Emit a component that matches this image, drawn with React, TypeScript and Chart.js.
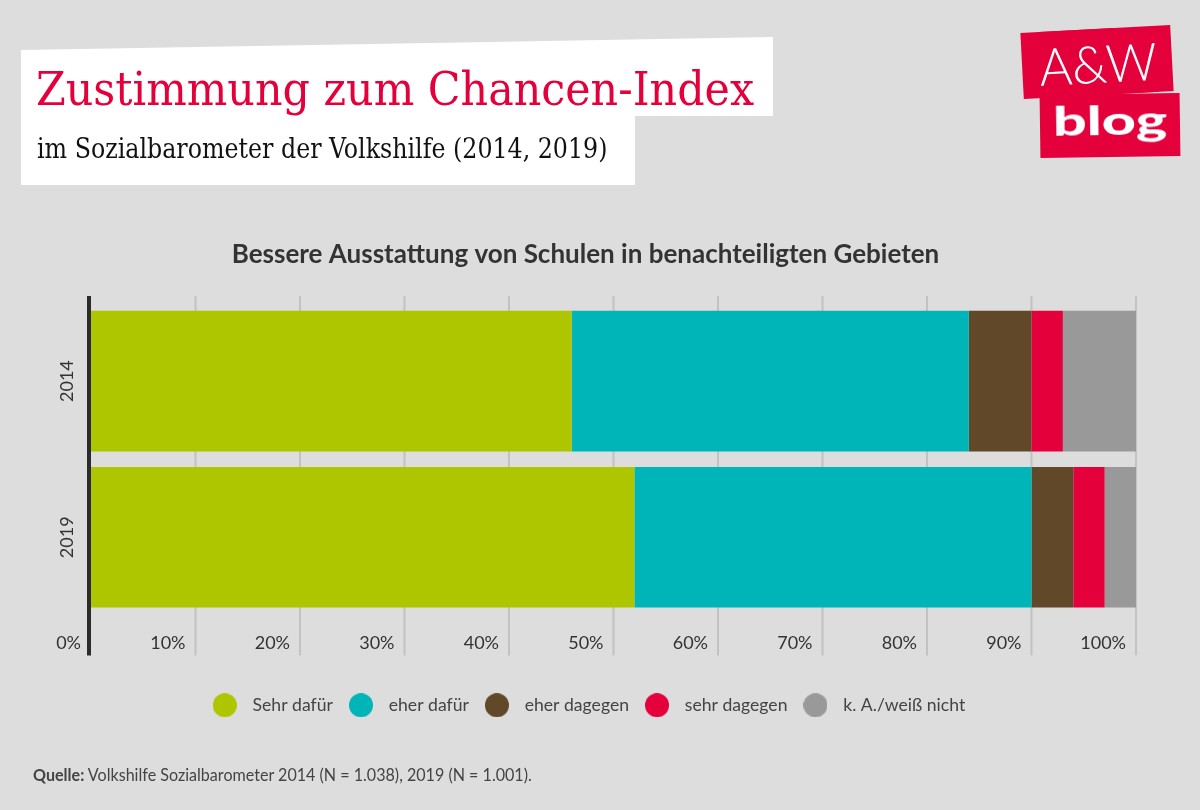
import React, { useEffect, useLayoutEffect, useRef, useState } from 'react';
import { Chart, registerables } from 'chart.js';

Chart.register(...registerables);

// ---- data ----
const years = ['2014', '2019'];
const seriesNames = ['Sehr dafür', 'eher dafür', 'eher dagegen', 'sehr dagegen', 'k. A./weiß nicht'];
const sehrDafuer = [46, 52];
const eherDafuer = [38, 38];
const eherDagegen = [6, 4];
const sehrDagegen = [3, 3];
const weissNicht = [7, 3];
const seriesColors = ['#adc600', '#00b5b8', '#604829', '#e3003b', '#999999'];
const xMin = 0;
const xMax = 100;
const xStep = 10;
const tickSuffix = '%';
const chartTitle = 'Bessere Ausstattung von Schulen in benachteiligten Gebieten';

const seriesValues = [sehrDafuer, eherDafuer, eherDagegen, sehrDagegen, weissNicht];

function makeDot(color: string, d = 24): HTMLCanvasElement {
  const c = document.createElement('canvas');
  c.width = d;
  c.height = d;
  const g = c.getContext('2d')!;
  g.fillStyle = color;
  g.beginPath();
  g.arc(d / 2, d / 2, d / 2, 0, Math.PI * 2);
  g.fill();
  return c;
}

const gridPlugin = {
  id: 'customGrid',
  beforeDatasetsDraw(chart: any) {
    const { ctx, chartArea } = chart;
    const x = chart.scales.x;
    const top = chartArea.top - 7;
    const bottom = chartArea.bottom + 40;
    ctx.save();
    x.ticks.forEach((t: any) => {
      const px = x.getPixelForValue(t.value);
      ctx.beginPath();
      if (t.value === xMin) {
        ctx.strokeStyle = '#2b2b2b';
        ctx.lineWidth = 4;
        ctx.moveTo(px - 2, top);
        ctx.lineTo(px - 2, bottom);
      } else {
        ctx.strokeStyle = '#c2c2c2';
        ctx.lineWidth = 2;
        ctx.moveTo(px, top);
        ctx.lineTo(px, bottom);
      }
      ctx.stroke();
    });
    ctx.restore();
  },
};

function FitText({ width, style, children }: { width: number; style: React.CSSProperties; children: React.ReactNode }) {
  const ref = useRef<HTMLDivElement>(null);
  const [sx, setSx] = useState(1);
  useLayoutEffect(() => {
    const measure = () => {
      const el = ref.current;
      if (!el) return;
      const w = el.offsetWidth;
      if (w > 0) setSx(width / w);
    };
    measure();
    const f: any = (document as any).fonts;
    if (f && f.ready) f.ready.then(measure);
  }, [width]);
  return (
    <div
      ref={ref}
      style={{
        position: 'absolute',
        whiteSpace: 'nowrap',
        lineHeight: 1,
        transformOrigin: '0 0',
        transform: `scaleX(${sx})`,
        ...style,
      }}
    >
      {children}
    </div>
  );
}

const CANVAS_LEFT = 35;
const CANVAS_W = 1118;
const CANVAS_H = 810;

export default function App() {
  const canvasRef = useRef<HTMLCanvasElement>(null);

  useEffect(() => {
    const canvas = canvasRef.current;
    if (!canvas) return;
    const dots = seriesColors.map((c) => makeDot(c));
    const titleSize = 26;
    const titleLH = titleSize * 1.2;
    const padTop = 255 - titleLH / 2;
    const chart = new Chart(canvas, {
      type: 'bar',
      data: {
        labels: years,
        datasets: seriesNames.map((name, i) => ({
          label: name,
          data: seriesValues[i],
          backgroundColor: seriesColors[i],
          borderWidth: 0,
          categoryPercentage: 1,
          barPercentage: 0.9,
        })),
      },
      options: {
        indexAxis: 'y',
        responsive: false,
        animation: false,
        events: [],
        layout: { padding: { top: padTop, bottom: 86, left: 0, right: 17 } },
        scales: {
          x: {
            stacked: true,
            min: xMin,
            max: xMax,
            grid: { display: false, drawTicks: false },
            border: { display: false },
            ticks: {
              stepSize: xStep,
              autoSkip: false,
              align: 'end',
              labelOffset: -10,
              padding: 17,
              color: '#333333',
              font: { family: 'Lato', size: 18 },
              callback: (v: any) => `${v}${tickSuffix}`,
            },
            afterFit: (s: any) => {
              s.height = 72;
            },
          },
          y: {
            stacked: true,
            grid: { display: false, drawTicks: false },
            border: { display: false },
            ticks: {
              minRotation: 90,
              maxRotation: 90,
              crossAlign: 'center',
              padding: 3,
              color: '#333333',
              font: { family: 'Lato', size: 18 },
            },
            afterFit: (s: any) => {
              s.width = 56;
            },
          },
        },
        plugins: {
          tooltip: { enabled: false },
          title: {
            display: true,
            text: chartTitle,
            color: '#333333',
            font: { family: 'Lato', size: titleSize, weight: 'bold', lineHeight: 1.2 },
            padding: { top: 0, bottom: 303 - padTop - titleLH },
          },
          legend: {
            display: true,
            position: 'bottom',
            labels: {
              usePointStyle: true,
              pointStyleWidth: 38,
              padding: 9,
              color: '#444444',
              font: { family: 'Lato', size: 17.6 },
              generateLabels: (ch: any) => {
                const items = (Chart.defaults.plugins.legend.labels as any).generateLabels(ch);
                return items.map((it: any) => ({ ...it, pointStyle: dots[it.datasetIndex] }));
              },
            },
          },
        },
      } as any,
      plugins: [gridPlugin],
    });
    return () => chart.destroy();
  }, []);

  const red = '#e3003b';

  return (
    <div
      style={{
        position: 'absolute',
        left: 0,
        top: 0,
        width: 1200,
        height: 810,
        background: '#dddddd',
        overflow: 'hidden',
      }}
    >
      <canvas
        ref={canvasRef}
        width={CANVAS_W}
        height={CANVAS_H}
        style={{ position: 'absolute', left: CANVAS_LEFT, top: 0, width: CANVAS_W, height: CANVAS_H }}
      />
      {/* header paper */}
      <div
        style={{
          position: 'absolute',
          left: 0,
          top: 0,
          width: 800,
          height: 200,
          background: '#ffffff',
          clipPath: 'polygon(21px 50px, 773px 37px, 773px 116px, 635px 116px, 635px 185px, 21px 185px)',
        }}
      />
      <FitText
        width={718}
        style={{
          left: 36,
          top: 66,
          fontFamily: "'DejaVu Serif Condensed', 'DejaVu Serif', serif",
          fontSize: 46,
          color: red,
        }}
      >
        Zustimmung zum Chancen-Index
      </FitText>
      <FitText
        width={570}
        style={{
          left: 37,
          top: 134.6,
          fontFamily: "'DejaVu Serif Condensed', 'DejaVu Serif', serif",
          fontSize: 28,
          color: '#111111',
        }}
      >
        im Sozialbarometer der Volkshilfe (2014, 2019)
      </FitText>
      {/* logo */}
      <div
        style={{
          position: 'absolute',
          left: 1022,
          top: 29,
          width: 150,
          height: 66,
          background: red,
          transform: 'rotate(-3deg)',
        }}
      >
        <FitText
          width={118}
          style={{ left: 17, top: 8, fontFamily: 'Lato', fontWeight: 300, fontSize: 52, color: '#ffffff' }}
        >
          A&amp;W
        </FitText>
      </div>
      <div
        style={{
          position: 'absolute',
          left: 1040,
          top: 94,
          width: 140,
          height: 63,
          background: red,
          transform: 'rotate(-0.8deg)',
        }}
      >
        <FitText
          width={114}
          style={{ left: 13, top: 5.5, fontFamily: 'Lato', fontWeight: 900, fontSize: 40, color: '#ffffff' }}
        >
          blog
        </FitText>
      </div>
      {/* source */}
      <FitText
        width={499}
        style={{ left: 33, top: 766, fontFamily: 'Lato', fontSize: 17, color: '#444444' }}
      >
        <b>Quelle:</b> Volkshilfe Sozialbarometer 2014 (N = 1.038), 2019 (N = 1.001).
      </FitText>
    </div>
  );
}
